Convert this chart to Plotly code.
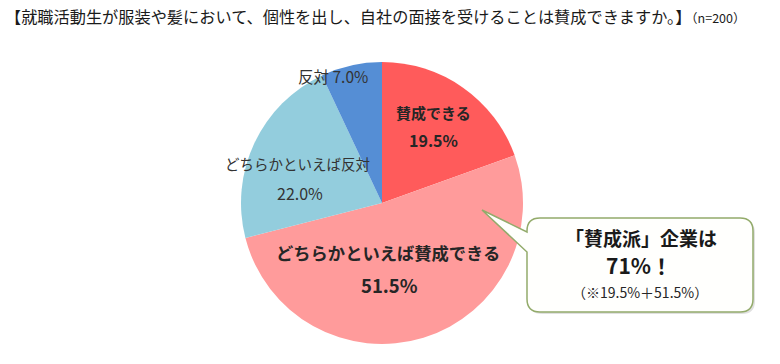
import plotly.graph_objects as go

# ---- data ----
categories = ["賛成できる", "どちらかといえば賛成できる", "どちらかといえば反対", "反対"]
values = [19.5, 51.5, 22.0, 7.0]
colors = ["#FF5B5B", "#FF9B9B", "#93CDDD", "#558ED5"]
title_text = "【就職活動生が服装や髪において、個性を出し、自社の面接を受けることは賛成できますか。】"
n_text = "（n=200）"

W, H = 780, 364
FONT = "Noto Sans CJK JP, Noto Sans, sans-serif"

def px(x):
    return x / W

def py(y):
    return 1 - y / H

cx, cy, R = 382, 203, 141

fig = go.Figure(go.Pie(
    labels=categories,
    values=values,
    sort=False,
    direction="clockwise",
    rotation=0,
    marker=dict(colors=colors, line=dict(width=0)),
    textinfo="none",
    hoverinfo="label+percent",
    showlegend=False,
    domain=dict(x=[px(cx - R), px(cx + R)], y=[py(cy + R), py(cy - R)]),
))

ann = []
# title
ann.append(dict(x=px(3), y=py(16), xref="paper", yref="paper", xanchor="left", yanchor="middle",
                text=title_text + f"<span style='font-size:12.5px'>{n_text}</span>",
                showarrow=False, font=dict(family=FONT, size=16.2, color="#1a1a1a")))

lab_color = "#262626"
# 反対
ann.append(dict(x=px(333), y=py(76), xref="paper", yref="paper", xanchor="center", yanchor="middle",
                text=f"{categories[3]} {values[3]:.1f}%", showarrow=False,
                font=dict(family=FONT, size=15.5, color="#333333")))
# 賛成できる
ann.append(dict(x=px(433), y=py(112), xref="paper", yref="paper", xanchor="center", yanchor="middle",
                text=f"<b>{categories[0]}</b>", showarrow=False,
                font=dict(family=FONT, size=15, color=lab_color)))
ann.append(dict(x=px(433), y=py(140), xref="paper", yref="paper", xanchor="center", yanchor="middle",
                text=f"<b>{values[0]:.1f}%</b>", showarrow=False,
                font=dict(family=FONT, size=16, color=lab_color)))
# どちらかといえば反対
ann.append(dict(x=px(297), y=py(164), xref="paper", yref="paper", xanchor="center", yanchor="middle",
                text=categories[2], showarrow=False,
                font=dict(family=FONT, size=14.5, color="#333333")))
ann.append(dict(x=px(300), y=py(193), xref="paper", yref="paper", xanchor="center", yanchor="middle",
                text=f"{values[2]:.1f}%", showarrow=False,
                font=dict(family=FONT, size=16, color="#333333")))
# どちらかといえば賛成できる
ann.append(dict(x=px(388), y=py(252), xref="paper", yref="paper", xanchor="center", yanchor="middle",
                text=f"<b>{categories[1]}</b>", showarrow=False,
                font=dict(family=FONT, size=17.3, color=lab_color)))
ann.append(dict(x=px(389), y=py(285), xref="paper", yref="paper", xanchor="center", yanchor="middle",
                text=f"<b>{values[1]:.1f}%</b>", showarrow=False,
                font=dict(family=FONT, size=18.5, color=lab_color)))

# callout text
agree_total = values[0] + values[1]
ann.append(dict(x=px(641), y=py(237), xref="paper", yref="paper", xanchor="center", yanchor="middle",
                text="<b>「賛成派」企業は</b>", showarrow=False,
                font=dict(family=FONT, size=19, color="#1a1a1a")))
ann.append(dict(x=px(639), y=py(265), xref="paper", yref="paper", xanchor="center", yanchor="middle",
                text=f"<b>{agree_total:.0f}%！</b>", showarrow=False,
                font=dict(family=FONT, size=21, color="#1a1a1a")))
ann.append(dict(x=px(640), y=py(292), xref="paper", yref="paper", xanchor="center", yanchor="middle",
                text=f"（※{values[0]:.1f}%＋{values[1]:.1f}%）", showarrow=False,
                font=dict(family=FONT, size=14, color="#262626")))

# callout shape
L, T, Rr, B, r = 527, 218, 753, 312, 13
tipx, tipy = 482, 210
def P(x, y):
    return f"{px(x):.5f},{py(y):.5f}"

path = (f"M {P(L + r, T)} L {P(Rr - r, T)} Q {P(Rr, T)} {P(Rr, T + r)} "
        f"L {P(Rr, B - r)} Q {P(Rr, B)} {P(Rr - r, B)} "
        f"L {P(L + r, B)} Q {P(L, B)} {P(L, B - r)} "
        f"L {P(L, 252)} L {P(tipx, tipy)} L {P(L, 232)} "
        f"L {P(L, T + r)} Q {P(L, T)} {P(L + r, T)} Z")
shapes = [
    dict(type="path", xref="paper", yref="paper", path=(
        f"M {P(L + r + 2, T + 2)} L {P(Rr - r + 2, T + 2)} Q {P(Rr + 2, T + 2)} {P(Rr + 2, T + r + 2)} "
        f"L {P(Rr + 2, B - r + 2)} Q {P(Rr + 2, B + 2)} {P(Rr - r + 2, B + 2)} "
        f"L {P(L + r + 2, B + 2)} Q {P(L + 2, B + 2)} {P(L + 2, B - r + 2)} Z"),
        fillcolor="rgba(0,0,0,0.12)", line=dict(width=0), layer="above"),
    dict(type="path", xref="paper", yref="paper", path=path,
         fillcolor="#FFFFFD", line=dict(color="#93AB6B", width=1.5), layer="above"),
]

fig.update_layout(
    width=W, height=H,
    margin=dict(l=0, r=0, t=0, b=0),
    paper_bgcolor="white", plot_bgcolor="white",
    annotations=ann, shapes=shapes,
)
fig.write_html("out.html", config={"displayModeBar": False},
               post_script="document.body.style.margin='0';document.body.style.overflow='hidden';")
